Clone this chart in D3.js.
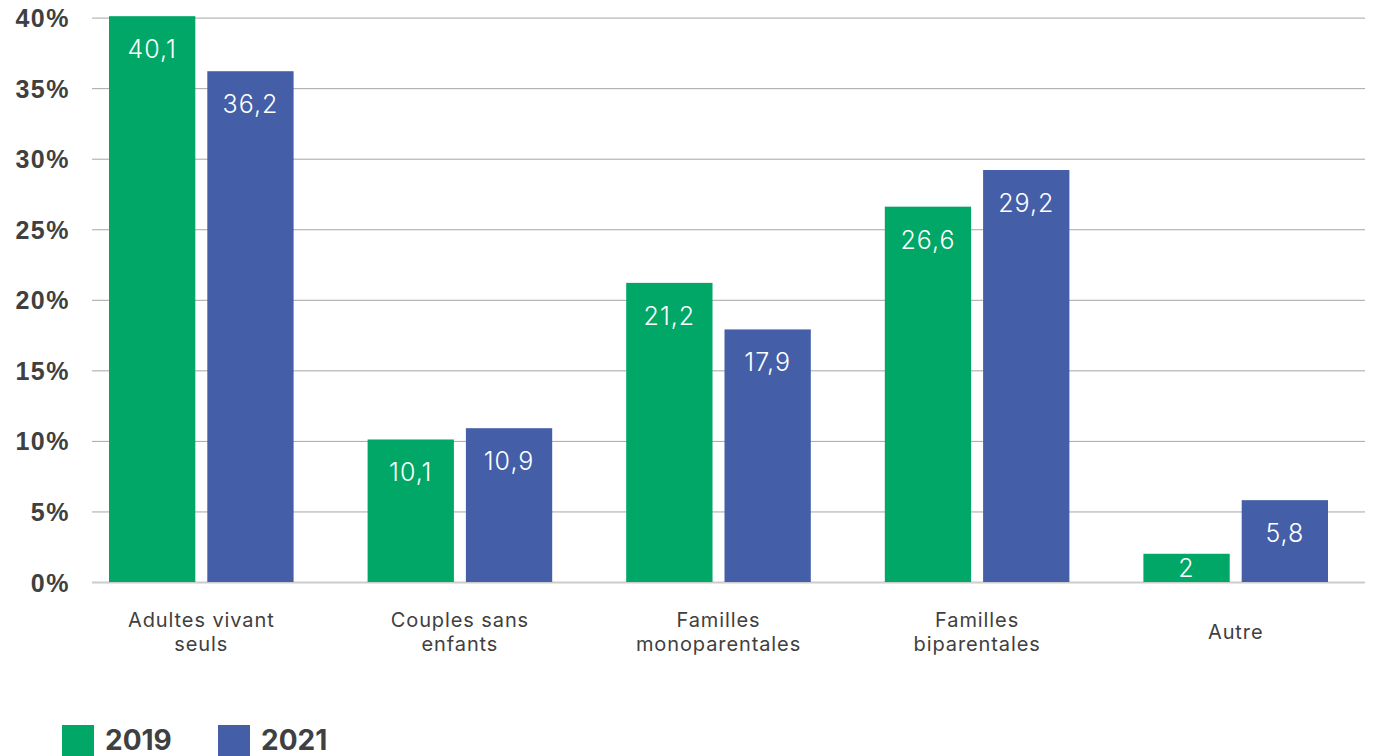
<!DOCTYPE html>
<html>
<head>
<meta charset="utf-8">
<script src="https://cdn.jsdelivr.net/npm/d3@7"></script>
<style>
  body { margin: 0; background: #fff; }
  svg { display: block; font-family: Inter, "Noto Sans", sans-serif; }
</style>
</head>
<body>
<script>
var categories = [['Adultes vivant', 'seuls'], ['Couples sans', 'enfants'], ['Familles', 'monoparentales'], ['Familles', 'biparentales'], ['Autre']];
var years = ['2019', '2021'];
var values2019 = [40.1, 10.1, 21.2, 26.6, 2];
var values2021 = [36.2, 10.9, 17.9, 29.2, 5.8];
var yTicks = [0, 5, 10, 15, 20, 25, 30, 35, 40];
var colors = ['#00a767', '#445fa8'];

var width = 1385, height = 756;

var svg = d3.select('body').append('svg')
  .attr('width', width)
  .attr('height', height);

var x = d3.scaleBand()
  .domain(d3.range(categories.length))
  .range([72, 1365]);

var xInner = d3.scaleBand()
  .domain(years)
  .range([37, x.bandwidth() - 37])
  .paddingInner(0.122);

var y = d3.scaleLinear()
  .domain([0, 40])
  .range([582, 17.6]);

// grid
var grid = svg.append('g')
  .call(d3.axisLeft(y).tickValues(yTicks).tickSize(-(1365 - 92)).tickFormat(function (d) { return d + '%'; }))
  .attr('transform', 'translate(92,0)');
grid.select('.domain').remove();
grid.selectAll('.tick line')
  .attr('stroke', function (d) { return d === 0 ? '#cccccc' : '#a6a6a6'; })
  .attr('stroke-width', function (d) { return d === 0 ? 2 : 1; });
grid.selectAll('.tick text')
  .attr('x', -22)
  .attr('dy', '0.36em')
  .attr('fill', '#404040')
  .style('font-size', '25px')
  .style('font-weight', 700)
  .style('letter-spacing', '1.5px');

var series = years.map(function (yr, i) {
  return (i === 0 ? values2019 : values2021).map(function (v, j) {
    return { year: yr, idx: i, cat: j, value: v };
  });
});

var groups = svg.selectAll('g.series')
  .data(series)
  .enter()
  .append('g')
  .attr('class', 'series')
  .attr('fill', function (d, i) { return colors[i]; });

groups.selectAll('rect')
  .data(function (d) { return d; })
  .enter()
  .append('rect')
  .attr('x', function (d) { return x(d.cat) + xInner(d.year); })
  .attr('y', function (d) { return y(d.value); })
  .attr('width', xInner.bandwidth())
  .attr('height', function (d) { return y(0) - y(d.value); });

groups.selectAll('text')
  .data(function (d) { return d; })
  .enter()
  .append('text')
  .attr('x', function (d) { return x(d.cat) + xInner(d.year) + xInner.bandwidth() / 2; })
  .attr('y', function (d) {
    var top = y(d.value);
    return Math.min(top + 42, (top + y(0)) / 2 + 9);
  })
  .attr('text-anchor', 'middle')
  .attr('fill', '#fff')
  .style('font-size', '25px')
  .style('font-weight', 300)
  .style('letter-spacing', '1px')
  .text(function (d) { return String(d.value).replace('.', ','); });

// category labels
var cats = svg.selectAll('text.cat')
  .data(categories)
  .enter()
  .append('text')
  .attr('class', 'cat')
  .attr('text-anchor', 'middle')
  .attr('fill', '#404040')
  .style('font-size', '20px')
  .style('letter-spacing', '0.9px')
  .attr('transform', function (d, i) {
    return 'translate(' + (x(i) + x.bandwidth() / 2) + ',' + (d.length > 1 ? 627 : 639) + ')';
  });
cats.selectAll('tspan')
  .data(function (d) { return d; })
  .enter()
  .append('tspan')
  .attr('x', 0)
  .attr('dy', function (d, i) { return i ? 24 : 0; })
  .text(function (d) { return d; });

// legend
var legend = svg.selectAll('g.legend')
  .data(years)
  .enter()
  .append('g')
  .attr('class', 'legend')
  .attr('transform', function (d, i) { return 'translate(' + (62 + i * 156) + ',725)'; });
legend.append('rect')
  .attr('width', 32)
  .attr('height', 32)
  .attr('fill', function (d, i) { return colors[i]; });
legend.append('text')
  .attr('x', 43)
  .attr('y', 25)
  .attr('fill', '#404040')
  .style('font-size', '28px')
  .style('font-weight', 700)
  .text(function (d) { return d; });
</script>
</body>
</html>
